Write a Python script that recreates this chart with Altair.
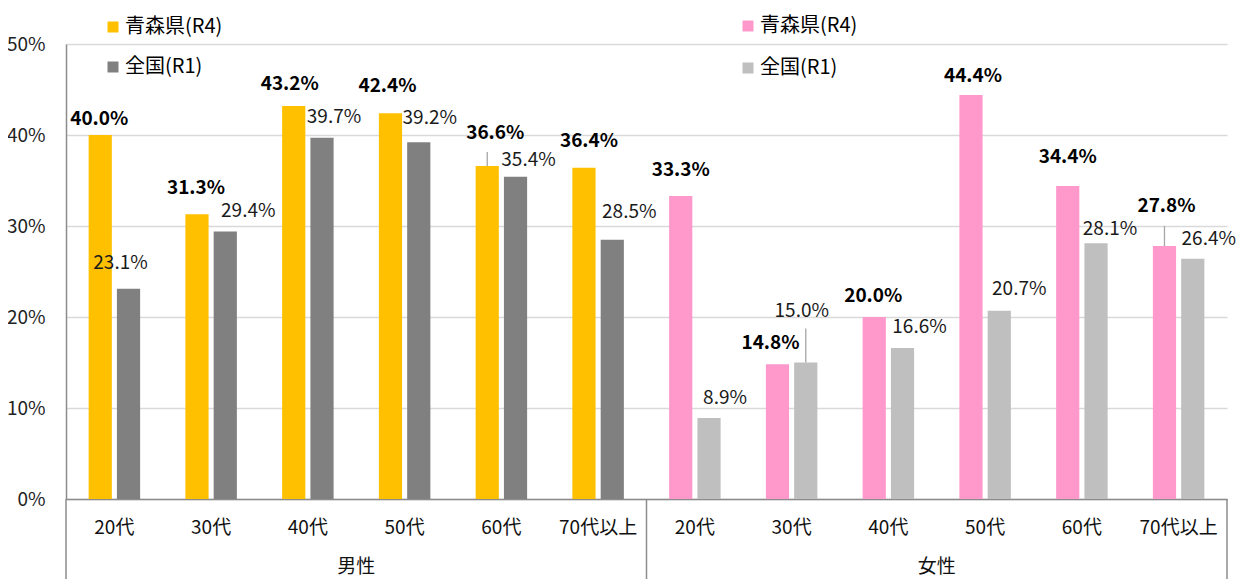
import altair as alt
import pandas as pd

genders = ["男性", "女性"]
ages = ["20代", "30代", "40代", "50代", "60代", "70代以上"]
series = ["青森県(R4)", "全国(R1)"]
male_aomori = [40.0, 31.3, 43.2, 42.4, 36.6, 36.4]
male_national = [23.1, 29.4, 39.7, 39.2, 35.4, 28.5]
female_aomori = [33.3, 14.8, 20.0, 44.4, 34.4, 27.8]
female_national = [8.9, 15.0, 16.6, 20.7, 28.1, 26.4]
male_colors = ["#FFC000", "#808080"]
female_colors = ["#FF99CC", "#BFBFBF"]
y_ticks = [0, 10, 20, 30, 40, 50]

FONT = "Noto Sans CJK JP"
W, H = 1161, 455

# label nudges (pixels, relative to the bar top centre), male ages then female ages
label_nudges = {
    series[0]: [(-1, -16), (-1, -26), (-4, -22), (-3, -27), (8, -33), (5, -27),
                (0, -26), (-7, -21), (-1, -21), (2, -19), (0, -29), (2, -40)],
    series[1]: [(-8, -26), (23, -20), (12, -21), (11, -24), (13, -17), (17, -28),
                (16, -20), (-4, -52), (17, -21), (20, -22), (14, -14), (16, -20)],
}
# leader lines: (gender, age, series) -> length in pixels
leader_lengths = {("男性", "60代", series[0]): 14,
                  ("女性", "30代", series[1]): 34,
                  ("女性", "70代以上", series[0]): 20}

rows = []
for g, a_vals, n_vals in [("男性", male_aomori, male_national),
                          ("女性", female_aomori, female_national)]:
    for age, av, nv in zip(ages, a_vals, n_vals):
        key = f"{g}|{age}"
        rows.append(dict(gender=g, age=age, key=key, series=series[0], value=av, label=f"{av:.1f}%"))
        rows.append(dict(gender=g, age=age, key=key, series=series[1], value=nv, label=f"{nv:.1f}%"))
df = pd.DataFrame(rows)
keys = [f"{g}|{a}" for g in genders for a in ages]

x_scale = alt.Scale(domain=keys, paddingInner=0, paddingOuter=0)
x_axis = alt.Axis(title=None, labelExpr="split(datum.label, '|')[1]", labelFontSize=19,
                  labelColor="#111111", labelPadding=19, ticks=False, tickSize=0,
                  domainColor="#8c8c8c", domainWidth=1.5, labelAngle=0, grid=False)


def xenc(field, band=None):
    if band is None:
        return alt.X(f"{field}:N", scale=x_scale, axis=x_axis, sort=keys)
    return alt.X(f"{field}:N", scale=x_scale, axis=x_axis, sort=keys, bandPosition=band)


xoff = alt.XOffset("series:N", sort=series,
                   scale=alt.Scale(domain=series, paddingInner=0.18, paddingOuter=0.8))
yenc = alt.Y("value:Q", scale=alt.Scale(domain=[0, 50]),
             axis=alt.Axis(title=None, values=y_ticks, labelExpr="datum.value + '%'",
                           labelFontSize=19, labelColor="#222222", labelPadding=21,
                           ticks=False, tickSize=0, domainColor="#8c8c8c", domainWidth=1.5,
                           gridColor="#d9d9d9", gridWidth=1.5))

male = df[df.gender == "男性"]
female = df[df.gender == "女性"]

leg_common = dict(title=None, orient="none", direction="vertical", symbolType="square",
                  symbolSize=121, symbolStrokeWidth=0, labelFontSize=20, labelColor="#000000",
                  labelFont=FONT, labelOffset=2)

male_bars = alt.Chart(male).mark_bar().encode(
    x=xenc("key"), xOffset=xoff, y=yenc,
    color=alt.Color("series:N", sort=series,
                    scale=alt.Scale(domain=series, range=male_colors),
                    legend=alt.Legend(legendX=37, legendY=-27, rowPadding=20, **leg_common)),
)
female_bars = alt.Chart(female).mark_bar().encode(
    x=xenc("key"), xOffset=xoff, y=yenc,
    fill=alt.Fill("series:N", sort=series,
                  scale=alt.Scale(domain=series, range=female_colors),
                  legend=alt.Legend(legendX=672, legendY=-28, rowPadding=22, **leg_common)),
)

layers = [male_bars, female_bars]

for s in series:
    bold = s == series[0]
    for i, k in enumerate(keys):
        row = df[(df.key == k) & (df.series == s)]
        dx, dy = label_nudges[s][i]
        layers.append(alt.Chart(row).mark_text(
            fontWeight="bold" if bold else "normal", fontSize=19, dx=dx, dy=dy,
            baseline="middle", color="#000000" if bold else "#1a1a1a"
        ).encode(x=xenc("key"), xOffset=xoff, y=yenc, text="label:N"))

for (g, age, s), length in leader_lengths.items():
    row = df[(df.gender == g) & (df.age == age) & (df.series == s)].copy()
    row["end"] = row["value"] + length * 50.0 / H
    layers.append(alt.Chart(row).mark_rule(color="#a6a6a6", strokeWidth=1.3).encode(
        x=xenc("key"), xOffset=xoff, y=yenc, y2="end:Q"))

groups_df = pd.DataFrame({"gender": genders,
                          "anchor": [f"{g}|{ages[2]}" for g in genders]})
layers.append(alt.Chart(groups_df).mark_text(
    fontSize=19, baseline="middle", color="#111111"
).encode(x=xenc("anchor", band=1), y=alt.value(H + 68), text="gender:N"))

sep_df = pd.DataFrame({"anchor": [keys[0], keys[len(ages)]]})
layers.append(alt.Chart(sep_df).mark_rule(color="#8c8c8c", strokeWidth=1.5).encode(
    x=xenc("anchor", band=0), y=alt.value(H), y2=alt.value(H + 90)))
edge_df = pd.DataFrame({"anchor": [keys[-1]]})
layers.append(alt.Chart(edge_df).mark_rule(color="#8c8c8c", strokeWidth=1.5).encode(
    x=xenc("anchor", band=1), y=alt.value(H), y2=alt.value(H + 90)))

chart = alt.layer(*layers).resolve_scale(color="independent", fill="independent").properties(
    width=W, height=H,
    autosize=alt.AutoSizeParams(type="none"),
    padding={"left": 58, "top": 36, "right": 9, "bottom": 80},
).configure(font=FONT).configure_view(stroke=None)

chart.save("out.html", embed_options={"renderer": "svg", "actions": False})
